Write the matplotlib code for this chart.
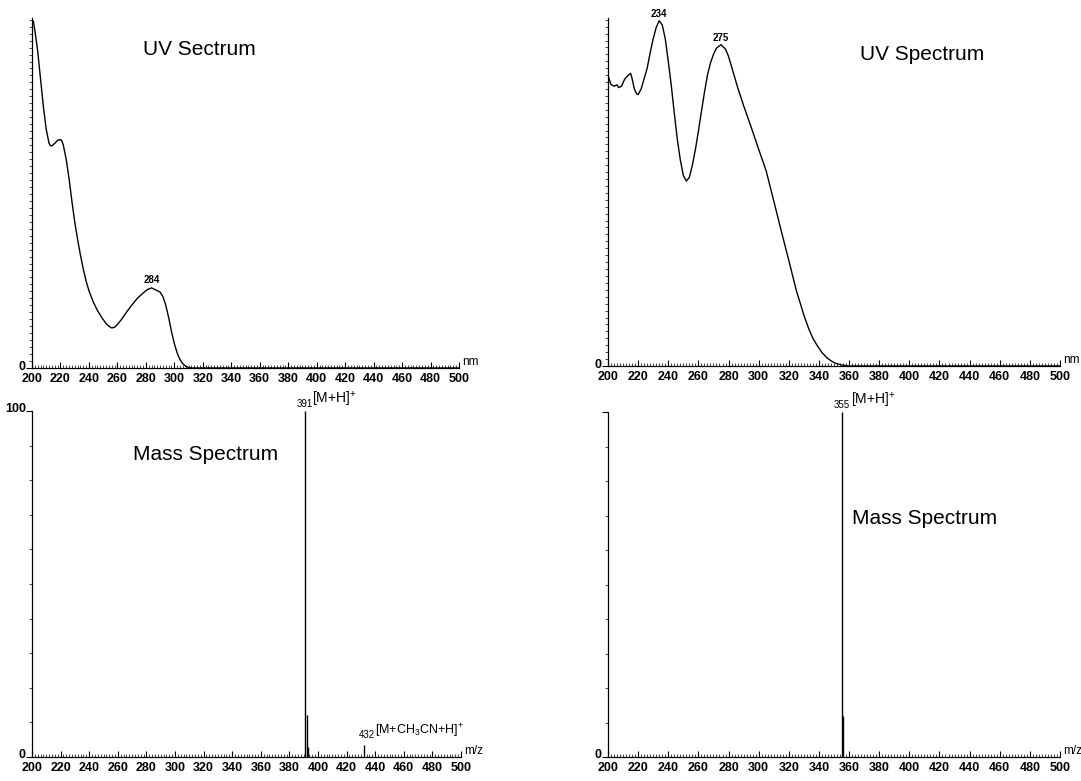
import matplotlib
matplotlib.use("Agg")
import matplotlib.pyplot as plt
import matplotlib.transforms as mtransforms
from matplotlib.ticker import MultipleLocator, FixedLocator

plt.rcParams['font.family'] = ['Liberation Sans', 'DejaVu Sans']
plt.rcParams['mathtext.fontset'] = 'custom'
plt.rcParams['mathtext.rm'] = 'Liberation Sans'
plt.rcParams['mathtext.it'] = 'Liberation Sans'

# ---- data ----
uv1_nm = [200, 201, 202, 204, 206, 208, 210, 212, 213, 214, 216, 218, 220, 221, 222, 224,
          226, 228, 230, 232, 234, 236, 238, 240, 243, 246, 249, 252, 254, 256, 258, 260,
          263, 266, 270, 274, 278, 281, 284, 286, 288, 290, 292, 294, 296, 298, 300, 302,
          304, 306, 308, 310, 312, 500]
uv1_abs = [100, 99.5, 97, 91, 83, 75, 68.5, 64.5, 63.8, 63.8, 64.5, 65.4, 65.6, 65.2, 64, 60,
           54.5, 48, 42, 37, 32.5, 28.5, 25, 22.2, 19, 16.5, 14.5, 12.8, 12, 11.5, 11.7, 12.5,
           14, 15.8, 18, 20, 21.5, 22.5, 23, 22.6, 22.2, 21.8, 20.5, 18, 14.5, 10.5, 7, 4.3,
           2.4, 1.2, 0.5, 0.15, 0, 0]

uv2_nm = [200, 201, 202, 204, 206, 207, 209, 211, 213, 215, 216, 217.5, 219, 220, 222, 224,
          226, 228, 230, 232, 234, 236, 238, 240, 242, 244, 246, 248, 250, 252, 254, 256,
          258, 260, 262, 264, 266, 268, 270, 272, 275, 278, 280, 283, 286, 290, 295, 300,
          305, 310, 315, 320, 325, 330, 333, 336, 339, 342, 345, 348, 351, 355, 360, 500]
uv2_abs = [84, 82.5, 81.3, 80.8, 81.2, 80.4, 80.8, 82.8, 83.8, 84.5, 83, 80, 78.6, 78.4, 80, 83,
           86, 90.5, 94.5, 97.8, 99.7, 98.5, 94.5, 88, 81, 73, 65.5, 59.5, 55, 53.4, 54.5, 58,
           62.5, 67.8, 73.5, 79, 84, 87.5, 90, 91.8, 92.8, 91.5, 89.4, 85, 80.5, 75.2, 69, 62.6,
           56.3, 47.7, 39, 30.5, 21.8, 14.7, 11, 8, 5.8, 3.9, 2.5, 1.5, 0.8, 0.3, 0, 0]

ms1_mz = [391, 392, 393, 432]
ms1_int = [100, 12, 3, 3.5]
ms2_mz = [355, 356]
ms2_int = [100, 12]

uv1_peak_labels = [284]
uv2_peak_labels = [234, 275]

W, H = 1081, 781
fig = plt.figure(figsize=(W / 100, H / 100), dpi=100)


def make_ax(x0, x1, y0, y1):
    return fig.add_axes([x0 / W, 1 - y0 / H, (x1 - x0) / W, (y0 - y1) / H])


def style(ax, unit, ymax, ylabels, yminor):
    ax.set_xlim(200, 500)
    ax.set_ylim(0, ymax)
    for s in ['top', 'right']:
        ax.spines[s].set_visible(False)
    for s in ['left', 'bottom']:
        ax.spines[s].set_linewidth(0.9)
    ax.xaxis.set_major_locator(MultipleLocator(20))
    ax.xaxis.set_minor_locator(MultipleLocator(2))
    ax.tick_params(axis='x', which='major', direction='in', length=4, width=0.8,
                   labelsize=9, pad=3.5)
    ax.tick_params(axis='x', which='minor', direction='in', length=2, width=0.5)
    ax.yaxis.set_major_locator(FixedLocator(ylabels))
    ax.set_yticklabels([str(v) for v in ylabels])
    ax.yaxis.set_minor_locator(MultipleLocator(yminor))
    ax.tick_params(axis='y', which='major', direction='out', length=4, width=0.8,
                   labelsize=9, pad=0.5)
    ax.tick_params(axis='y', which='minor', direction='out', length=2.5, width=0.5)
    shift = mtransforms.ScaledTranslation(0, 3 / 100, fig.dpi_scale_trans)
    for lab in ax.get_xticklabels() + ax.get_yticklabels():
        lab.set_fontweight('bold')
    for lab in ax.get_yticklabels():
        lab.set_transform(lab.get_transform() + shift)
    ax.annotate(unit, (1.0, 0.0), xycoords='axes fraction', xytext=(2, 0),
                textcoords='offset points', fontsize=8.5, ha='left', va='bottom')


# ---- top-left UV ----
ax1 = make_ax(32, 459, 368, 18)
ax1.plot(uv1_nm, uv1_abs, color='black', lw=1.0)
style(ax1, 'nm', 100.5, [0], 2)
for p in uv1_peak_labels:
    i = uv1_nm.index(p)
    ax1.annotate(str(p), (p, uv1_abs[i]), xytext=(0, 2), textcoords='offset points',
                 ha='center', va='bottom', fontsize=7, fontweight='bold')
ax1.text(0.26, 0.909, 'UV Sectrum', transform=ax1.transAxes, fontsize=15,
         ha='left', va='center')

# ---- top-right UV ----
ax2 = make_ax(608, 1060, 366, 18)
ax2.plot(uv2_nm, uv2_abs, color='black', lw=1.0)
style(ax2, 'nm', 100.5, [0], 2)
for p in uv2_peak_labels:
    i = uv2_nm.index(p)
    ax2.annotate(str(p), (p, uv2_abs[i]), xytext=(0, 1), textcoords='offset points',
                 ha='center', va='bottom', fontsize=7, fontweight='bold')
ax2.text(0.558, 0.894, 'UV Spectrum', transform=ax2.transAxes, fontsize=15,
         ha='left', va='center')

# ---- bottom-left MS ----
ax3 = make_ax(32, 461, 757, 411)
ax3.vlines(ms1_mz, 0, ms1_int, color='black', lw=1.0)
style(ax3, 'm/z', 100, [0, 100], 10)
ax3.text(391, 100.5, '391', ha='center', va='bottom', fontsize=7)
ax3.text(396, 100.5, r'[M+H]$^{+}$', ha='left', va='bottom', fontsize=10)
ax3.text(434, 5, '432', ha='center', va='bottom', fontsize=7)
ax3.text(440, 5, r'[M+CH$_3$CN+H]$^{+}$', ha='left', va='bottom', fontsize=9)
ax3.text(0.235, 0.873, 'Mass Spectrum', transform=ax3.transAxes, fontsize=15,
         ha='left', va='center')

# ---- bottom-right MS ----
ax4 = make_ax(608, 1060, 757, 412)
ax4.vlines(ms2_mz, 0, ms2_int, color='black', lw=1.0)
style(ax4, 'm/z', 100, [0, 100], 10)
ax4.set_yticklabels(['0', ''])
for lab in ax4.get_yticklabels():
    lab.set_fontweight('bold')
ax4.text(355, 100.5, '355', ha='center', va='bottom', fontsize=7)
ax4.text(361, 100.5, r'[M+H]$^{+}$', ha='left', va='bottom', fontsize=10)
ax4.text(0.54, 0.69, 'Mass Spectrum', transform=ax4.transAxes, fontsize=15,
         ha='left', va='center')

fig.savefig('out.png', dpi=100, facecolor='white')
